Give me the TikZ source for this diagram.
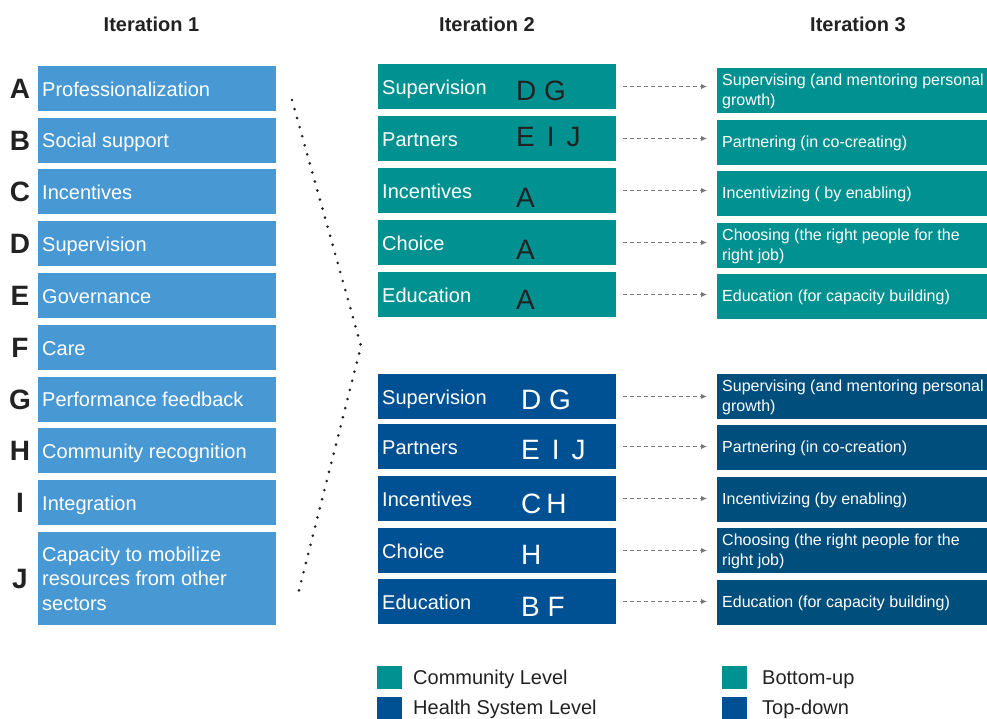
\documentclass[tikz,border=0pt]{standalone}
\usepackage{fontspec}
\setmainfont{Liberation Sans}
\usetikzlibrary{arrows.meta}

\definecolor{iterblue}{RGB}{72,152,211}
\definecolor{commteal}{RGB}{0,145,144}
\definecolor{healthnavy}{RGB}{0,81,147}
\definecolor{outnavy}{RGB}{0,78,124}
\definecolor{ink}{RGB}{34,34,34}
\definecolor{linkgray}{RGB}{120,120,120}

\tikzset{
  box/.style={rectangle, anchor=north west, minimum height=45, inner sep=0, outer sep=0},
  leftbox/.style={box, fill=iterblue, minimum width=238},
  midteal/.style={box, fill=commteal, minimum width=238},
  midnavy/.style={box, fill=healthnavy, minimum width=238},
  outteal/.style={box, fill=commteal, minimum width=270},
  outnavy/.style={box, fill=outnavy, minimum width=270},
  word/.style={anchor=west, inner sep=0, text=white, xshift=4pt,
    font=\fontsize{20}{24}\selectfont, text height=19pt, text depth=4pt},
  wordblock/.style={anchor=west, inner sep=0, text=white, xshift=4pt, align=left,
    font=\fontsize{20}{24.5}\selectfont},
  outtext/.style={anchor=west, inner sep=0, text=white, xshift=5pt, yshift=-1pt, align=left,
    font=\fontsize{16}{20}\selectfont},
  keyletter/.style={anchor=center, inner sep=0, text=ink,
    font=\fontsize{28}{30}\selectfont\bfseries, text height=20pt, text depth=0pt},
  codeletters/.style={anchor=west, inner sep=0,
    font=\fontsize{28}{30}\selectfont, text height=20pt, text depth=0pt},
  head/.style={inner sep=0, text=ink, font=\fontsize{20}{24}\selectfont\bfseries},
  legendtext/.style={anchor=west, inner sep=0, text=ink,
    font=\fontsize{20}{24}\selectfont, text height=14.5pt, text depth=0pt},
  swatch/.style={rectangle, anchor=north west, inner sep=0, outer sep=0,
    minimum width=25, minimum height=23},
  dasharrow/.style={linkgray, line width=1.35pt, dash pattern=on 4pt off 3pt,
    shorten <=7pt, shorten >=10pt, -{Latex[length=6pt,width=5.5pt]}},
  dotline/.style={ink, line width=2.9pt, line cap=round, dash pattern=on 0pt off 9.4pt}
}

\begin{document}
\begin{tikzpicture}[x=1pt,y=-1pt]
\clip (0,0) rectangle (987,718);
\fill[white] (0,0) rectangle (987,718);

% column headings
\node[head] (h1) at (151.5,24) {Iteration 1};
\node[head] (h2) at (487,24) {Iteration 2};
\node[head] (h3) at (858,24) {Iteration 3};

% iteration 1: themes A to I
\foreach \n/\t/\txt in {A/66/Professionalization, B/117.5/Social support,
    C/169/Incentives, D/221/Supervision, E/273/Governance, F/325/Care,
    G/376.5/Performance feedback, H/428/Community recognition, I/480/Integration}{
  \node[leftbox] (L\n) at (38,\t) {};
  \node[word] (LT\n) at (L\n.west) {\txt};
  \node[keyletter, xshift=-18pt] (LK\n) at (L\n.west) {\n};
}
% theme J spans three lines
\node[leftbox, minimum height=93] (LJ) at (38,532) {};
\node[wordblock] (LTJ) at (LJ.west) {Capacity to mobilize\\resources from other\\sectors};
\node[keyletter, xshift=-18pt] (LKJ) at (LJ.west) {J};

% grouping bracket of dots
\coordinate (d1) at (292,100);
\coordinate (d2) at (361,346);
\coordinate (d3) at (297,598);
\draw[dotline] (d1) -- (d2) -- (d3);

% iteration 2: community level
\foreach \n/\t/\w/\codes/\dy in {1/64/Supervision/D G/4,
    2/116/Partners/E\hspace{12pt}I\hspace{12pt}J/-2,
    3/168/Incentives/A/7, 4/220/Choice/A/7, 5/272/Education/A/5}{
  \node[midteal] (M\n) at (378,\t) {};
  \node[word] (MW\n) at (M\n.west) {\w};
  \node[codeletters, text=ink, xshift=138pt, yshift=-\dy pt] (MC\n) at (M\n.west) {\codes};
}

% iteration 2: health system level
\foreach \n/\t/\w/\codes/\dy in {1/374/Supervision/D G/3,
    2/424/Partners/E\hspace{12pt}I\hspace{12pt}J/3,
    3/476/Incentives/C\hspace{5pt}H/4.5, 4/528/Choice/H/4, 5/579/Education/B F/5}{
  \node[midnavy] (N\n) at (378,\t) {};
  \node[word] (NW\n) at (N\n.west) {\w};
  \node[codeletters, text=white, xshift=143pt, yshift=-\dy pt] (NC\n) at (N\n.west) {\codes};
}

% iteration 3: bottom-up
\node[outteal] (R1) at (717,68) {};
\node[outtext] (RT1) at (R1.west) {Supervising (and mentoring personal\\growth)};
\node[outteal] (R2) at (717,119.5) {};
\node[outtext] (RT2) at (R2.west) {Partnering (in co-creating)};
\node[outteal] (R3) at (717,171) {};
\node[outtext] (RT3) at (R3.west) {Incentivizing ( by enabling)};
\node[outteal] (R4) at (717,222.5) {};
\node[outtext] (RT4) at (R4.west) {Choosing (the right people for the\\right job)};
\node[outteal] (R5) at (717,274) {};
\node[outtext] (RT5) at (R5.west) {Education (for capacity building)};

% iteration 3: top-down
\node[outnavy] (S1) at (717,374) {};
\node[outtext] (ST1) at (S1.west) {Supervising (and mentoring personal\\growth)};
\node[outnavy] (S2) at (717,424.5) {};
\node[outtext] (ST2) at (S2.west) {Partnering (in co-creation)};
\node[outnavy] (S3) at (717,477) {};
\node[outtext] (ST3) at (S3.west) {Incentivizing (by enabling)};
\node[outnavy] (S4) at (717,528) {};
\node[outtext] (ST4) at (S4.west) {Choosing (the right people for the\\right job)};
\node[outnavy] (S5) at (717,579.5) {};
\node[outtext] (ST5) at (S5.west) {Education (for capacity building)};

% links from iteration 2 to iteration 3
\foreach \n in {1,...,5}{
  \draw[dasharrow] (M\n.east) -- (M\n.east -| R\n.west);
  \draw[dasharrow] (N\n.east) -- (N\n.east -| S\n.west);
}

% legend
\node[swatch, fill=commteal] (K1) at (377,666) {};
\node[legendtext, xshift=11pt] (KT1) at (K1.east) {Community Level};
\node[swatch, fill=healthnavy] (K2) at (377,697) {};
\node[legendtext, xshift=11pt, yshift=1.5pt] (KT2) at (K2.east) {Health System Level};
\node[swatch, fill=commteal] (K3) at (722,665.5) {};
\node[legendtext, xshift=15pt] (KT3) at (K3.east) {Bottom-up};
\node[swatch, fill=healthnavy] (K4) at (722,697) {};
\node[legendtext, xshift=15pt, yshift=1.5pt] (KT4) at (K4.east) {Top-down};
\end{tikzpicture}
\end{document}
